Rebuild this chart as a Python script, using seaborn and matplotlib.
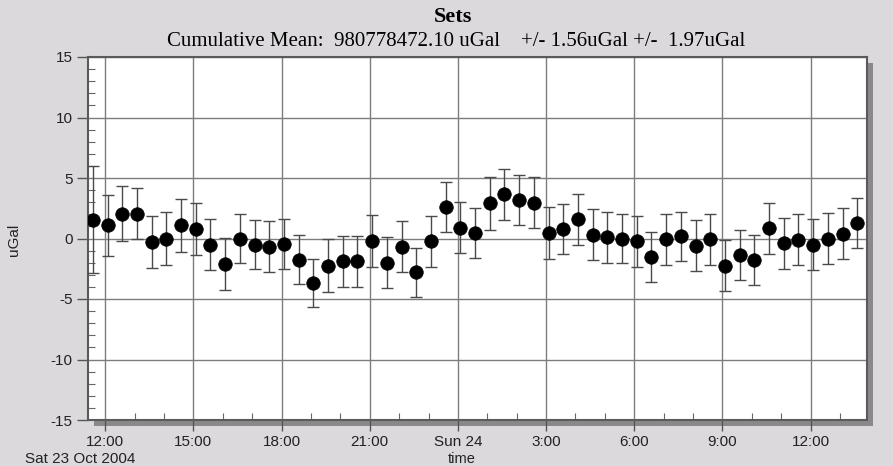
import numpy as np
import pandas as pd
import seaborn as sns
import matplotlib.pyplot as plt
import matplotlib.dates as mdates
from matplotlib.patches import Rectangle

# gravity residuals per set (uGal) and their error bars, one set every 30 min
set_start = '2004-10-23 11:35'
set_values = [1.56, 1.08, 2.05, 2.05, -0.3, 0.0, 1.08, 0.8, -0.5, -2.1,
              0.0, -0.5, -0.67, -0.45, -1.75, -3.7, -2.25, -1.9, -1.9, -0.17,
              -2.0, -0.67, -2.8, -0.22, 2.6, 0.9, 0.45, 2.9, 3.65, 3.2,
              2.95, 0.45, 0.78, 1.58, 0.3, 0.1, 0.0, -0.22, -1.55, -0.08,
              0.17, -0.58, -0.08, -2.25, -1.37, -1.78, 0.86, -0.38, -0.1, -0.5,
              0.0, 0.4, 1.28]
set_errors = [4.45, 2.55, 2.26, 2.1, 2.15, 2.18, 2.2, 2.15, 2.08, 2.15,
              2.05, 2.0, 2.12, 2.08, 2.05, 2.0, 2.2, 2.08, 2.08, 2.15,
              2.1, 2.08, 2.05, 2.1, 2.1, 2.08, 2.1, 2.17, 2.1, 2.08,
              2.1, 2.18, 2.1, 2.1, 2.1, 2.1, 2.05, 2.1, 2.08, 2.1,
              2.05, 2.08, 2.1, 2.12, 2.08, 2.1, 2.1, 2.1, 2.1, 2.08,
              2.08, 2.1, 2.08]
tick_labels = ['12:00', '15:00', '18:00', '21:00', 'Sun 24', '3:00', '6:00', '9:00', '12:00']
x_range = ('2004-10-23 11:25', '2004-10-24 13:55')

df = pd.DataFrame({
    'time': pd.date_range(set_start, periods=len(set_values), freq='30min'),
    'gravity': set_values,
    'err': set_errors,
})

sns.set_theme(style='white')
plt.rcParams['font.family'] = ['Liberation Sans', 'DejaVu Sans']
plt.rcParams['axes.unicode_minus'] = False

bg = '#dbd9dc'
fig = plt.figure(figsize=(8.93, 4.66), dpi=100, facecolor=bg)
W, H = 893, 466
left, right, top, bottom = 88, 867, 57, 420

ax = fig.add_axes([left / W, 1 - bottom / H, (right - left) / W, (bottom - top) / H])
ax.set_facecolor('white')

# drop shadow: two gray strips along the right and bottom edges of the frame
off = 6
shadow = '#8a888b'
ax.add_patch(Rectangle((1, -off / (bottom - top)), off / (right - left), 1,
                       transform=ax.transAxes, facecolor=shadow, edgecolor='none',
                       clip_on=False, zorder=0))
ax.add_patch(Rectangle((off / (right - left), -off / (bottom - top)), 1, off / (bottom - top),
                       transform=ax.transAxes, facecolor=shadow, edgecolor='none',
                       clip_on=False, zorder=0))

ax.errorbar(df['time'], df['gravity'], yerr=df['err'], fmt='none', ecolor='#4a4a4a',
            elinewidth=1.0, capsize=4, capthick=1.0, zorder=3)
sns.scatterplot(data=df, x='time', y='gravity', ax=ax, color='black', s=95,
                edgecolor='black', linewidth=0.5, zorder=4, legend=False)

ax.set_xlim(pd.Timestamp(x_range[0]), pd.Timestamp(x_range[1]))
ax.set_ylim(-15, 15)
tick_times = pd.date_range('2004-10-23 12:00', periods=len(tick_labels), freq='3h')
ax.set_xticks(mdates.date2num(tick_times))
ax.set_xticklabels(tick_labels)
ax.xaxis.set_minor_locator(mdates.HourLocator())
ax.set_yticks(np.arange(-15, 16, 5))
ax.set_yticks(np.arange(-15, 16, 1), minor=True)

ax.grid(True, which='major', color='#7d7d7d', linewidth=1.0)
ax.tick_params(axis='both', which='major', direction='out', length=8, width=1,
               color='#555555', labelsize=11, labelcolor='#222222', pad=3)
ax.tick_params(axis='both', which='minor', direction='in', length=5, width=0.8,
               color='#666666', left=True, bottom=True)
ax.tick_params(axis='y', which='both', left=True)
ax.tick_params(axis='x', which='both', bottom=True)
for s in ax.spines.values():
    s.set_color('#5a5a5a')
    s.set_linewidth(1.5)
ax.set_xlabel('')
ax.set_ylabel('')

fig.text(453 / W, 1 - 17 / H, 'Sets', ha='center', va='center',
         family='Liberation Serif', fontsize=16, fontweight='bold', color='black')
fig.text(456 / W, 1 - 41 / H,
         'Cumulative Mean:  980778472.10 uGal    +/- 1.56uGal +/-  1.97uGal',
         ha='center', va='center', family='Liberation Serif', fontsize=15, color='black')
fig.text(14 / W, 1 - 240 / H, 'uGal', rotation=90, ha='center', va='center',
         fontsize=11, color='#222222')
fig.text(462 / W, 1 - 459 / H, 'time', ha='center', va='center', fontsize=10.5, color='#222222')
fig.text(25 / W, 1 - 459 / H, 'Sat 23 Oct 2004', ha='left', va='center', fontsize=11, color='#222222')

fig.savefig('out.png', dpi=100, facecolor=bg)
